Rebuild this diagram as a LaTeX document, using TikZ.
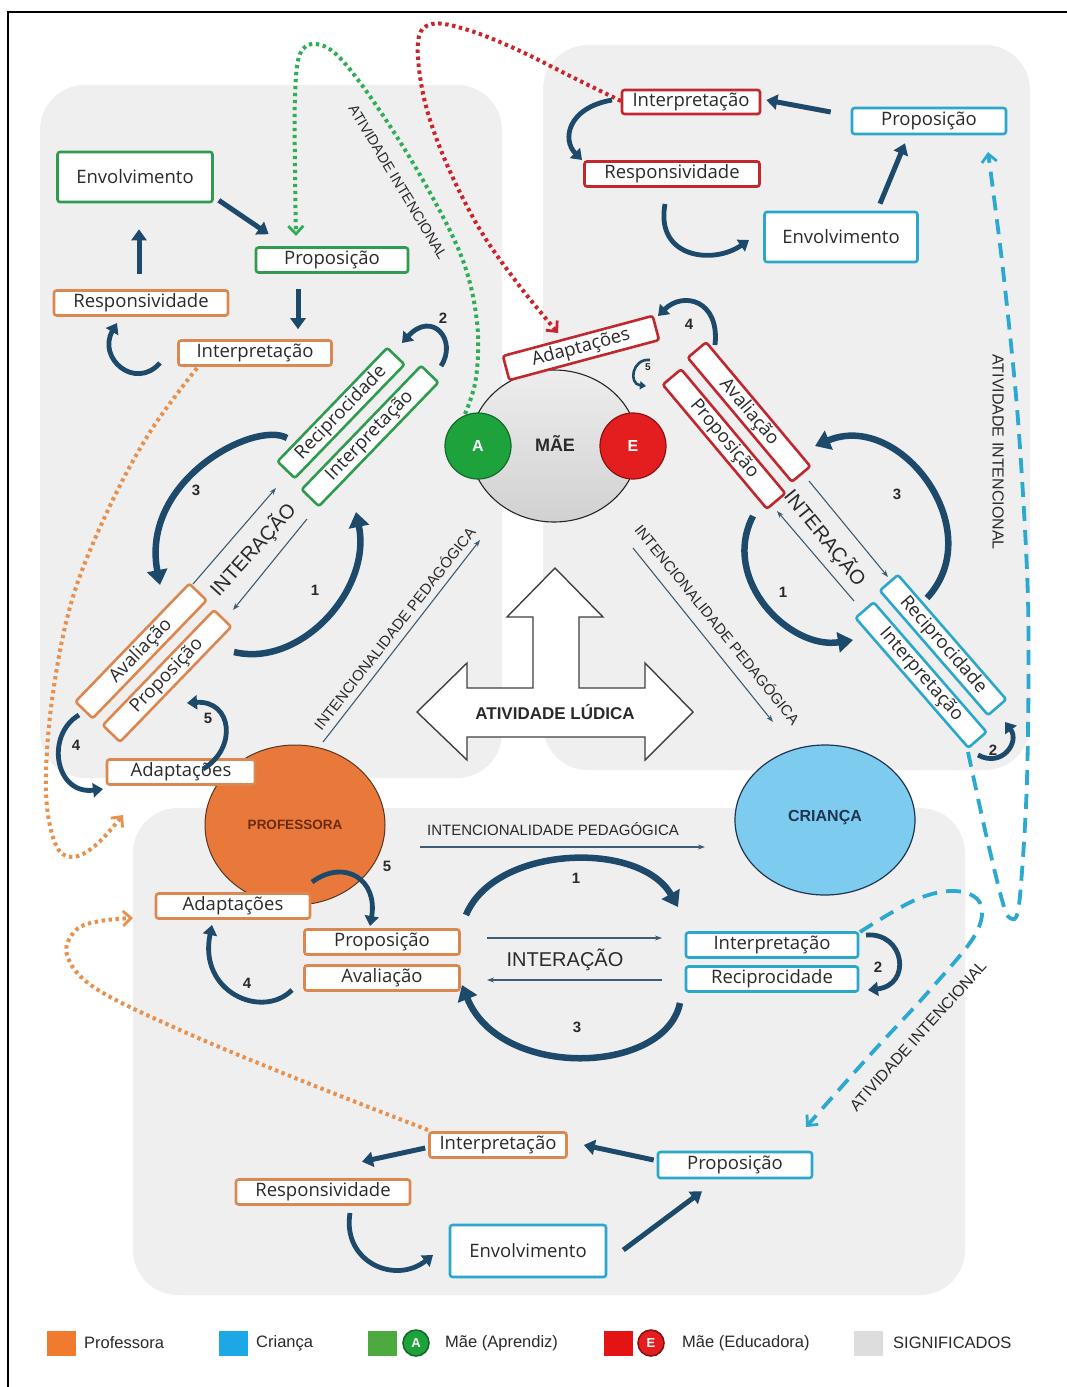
\documentclass[tikz,border=0pt]{standalone}
\usepackage{fontspec}
\setmainfont{Liberation Sans}
\newfontfamily\osans{Open Sans}
\newfontfamily\lsans{Liberation Sans}
\usetikzlibrary{arrows.meta,shapes.geometric}
\definecolor{panelc}{HTML}{EFEFEF}
\definecolor{orB}{HTML}{DC8750}
\definecolor{blB}{HTML}{2AA7CB}
\definecolor{grB}{HTML}{2E9B4F}
\definecolor{rdB}{HTML}{C0282D}
\definecolor{navy}{HTML}{1D4A6A}
\definecolor{thinc}{HTML}{3E5C72}
\definecolor{txtc}{HTML}{2A2A2A}
\definecolor{profc}{HTML}{E9793A}
\definecolor{profd}{HTML}{5A3422}
\definecolor{proft}{HTML}{6B2A12}
\definecolor{cric}{HTML}{7DCBEF}
\definecolor{crid}{HTML}{1F3550}
\definecolor{maec}{HTML}{D3D3D3}
\definecolor{aGreen}{HTML}{1EA33C}
\definecolor{aGreenD}{HTML}{136B28}
\definecolor{eRed}{HTML}{E41E1E}
\definecolor{eRedD}{HTML}{8A1212}
\definecolor{grDot}{HTML}{2FAE55}
\definecolor{rdDot}{HTML}{C8262C}
\definecolor{orDot}{HTML}{E8914F}
\definecolor{blDash}{HTML}{2BA9D0}
\definecolor{lgOr}{HTML}{F07A2E}
\definecolor{lgBl}{HTML}{1CA8E5}
\definecolor{lgGr}{HTML}{4CAA3E}
\definecolor{lgRd}{HTML}{E51414}
\definecolor{lgGy}{HTML}{DDDDDD}
\newcommand\bxf{\osans\fontsize{18.5}{21}\selectfont}
\newcommand\capf{\lsans\fontsize{15}{16}\selectfont}
\newcommand\capg{\lsans\fontsize{16}{17}\selectfont}
\newcommand\intf{\lsans\fontsize{20}{21}\selectfont}
\newcommand\numf{\lsans\bfseries\fontsize{15}{15}\selectfont}
\newcommand\lgf{\lsans\fontsize{16.5}{18}\selectfont}
\begin{document}
\begin{tikzpicture}[x=1pt,y=-1pt,
  bx/.style={draw, line width=2.6pt, fill=white, rounded corners=2.5pt, minimum height=24pt, inner sep=0pt, text=txtc, font=\bxf},
  obx/.style={bx, draw=orB},
  gbx/.style={bx, draw=grB},
  rbx/.style={bx, draw=rdB},
  bbx/.style={bx, draw=blB},
  darr/.style={draw=navy, line width=5pt, -{Triangle[length=11pt,width=15pt]}},
  carr/.style={draw=navy, line width=6.5pt, -{Triangle[length=15pt,width=20pt]}},
  marr/.style={draw=navy, line width=4.8pt, -{Triangle[length=10pt,width=14pt]}},
  sarr/.style={draw=navy, line width=2.6pt, -{Triangle[length=6pt,width=8pt]}},
  tarr/.style={draw=thinc, line width=1.1pt, -{Stealth[length=7pt,width=5pt]}},
  num/.style={font=\numf, text=txtc, inner sep=0pt},
  capl/.style={font=\capf, text=txtc, inner sep=0pt},
  capb/.style={font=\capg, text=txtc, inner sep=0pt},
  intl/.style={font=\intf, text=txtc, inner sep=0pt},
  dotline/.style={line width=4pt, dash pattern=on 3.4pt off 3.6pt},
  barb/.style={-{Straight Barb[length=8pt,width=15pt,line width=2.8pt]}},
  dashb/.style={line width=3.8pt, dash pattern=on 15pt off 9pt, draw=blDash},
  lgt/.style={font=\lgf, text=txtc, anchor=west, inner sep=0pt},
  lsq/.style={minimum width=29pt, minimum height=25pt, inner sep=0pt},
]
\useasboundingbox (0,0) rectangle (1067,1387);
\fill[white] (0,0) rectangle (1067,1387);
% frame
\draw[line width=1.5pt] (8,1400) -- (8,12) -- (1070,12);
% panels (SIGNIFICADOS)
\fill[panelc, rounded corners=45pt] (40,85) rectangle (502,778);
\fill[panelc, rounded corners=45pt] (543,45) rectangle (1030,770);
\fill[panelc, rounded corners=45pt] (133,808) rectangle (965,1295);

% dotted / dashed intentional activity lines
\draw[dotline, draw=grDot, barb] plot[smooth, tension=0.6] coordinates {(465,414) (476,378) (477,322) (462,258) (424,182) (378,108) (340,58) (316,44) (300,54) (295,95) (295,170) (296,236)};
\draw[dotline, draw=rdDot, barb] plot[smooth, tension=0.6] coordinates {(621,101) (574,78) (518,50) (468,30) (432,24) (418,42) (424,98) (445,160) (479,228) (518,284) (558,333)};
\draw[dotline, draw=orDot, barb] plot[smooth, tension=0.6] coordinates {(197,368) (150,432) (108,510) (72,600) (52,700) (46,790) (55,843) (72,857) (96,845) (123,815)};
\draw[dotline, draw=orDot, barb] plot[smooth, tension=0.6] coordinates {(428,1130) (300,1080) (180,1030) (95,988) (67,955) (76,930) (100,921) (133,918)};
\draw[dashb, barb] plot[smooth, tension=0.5] coordinates {(968,752) (985,830) (1002,900) (1010,918) (1019,905) (1027,780) (1028,600) (1018,420) (1003,270) (988,152)};
\draw[dashb, barb] plot[smooth, tension=0.6] coordinates {(860,932) (915,900) (955,891) (980,903) (975,935) (930,990) (870,1055) (806,1127)};

% circles
\node[ellipse, draw=black!85, line width=1.1pt, top color=gray!14, bottom color=gray!36, minimum width=168pt, minimum height=152pt, inner sep=0pt] (mae) at (554,446) {};
\node[font=\lsans\bfseries\fontsize{18}{18}\selectfont, text=txtc] (maeT) at (555,443) {MÃE};
\node[circle, fill=aGreen, draw=aGreenD, line width=1.2pt, minimum size=66pt, inner sep=0pt, text=white, font=\lsans\bfseries\fontsize{16}{16}\selectfont] (cA) at (478,446) {A};
\node[circle, fill=eRed, draw=eRedD, line width=1.2pt, minimum size=66pt, inner sep=0pt, text=white, font=\lsans\bfseries\fontsize{16}{16}\selectfont] (cE) at (633,446) {E};
\node[ellipse, fill=profc, draw=profd, line width=1pt, minimum width=180pt, minimum height=160pt, inner sep=0pt] (prof) at (295,825) {};
\node[font=\lsans\bfseries\fontsize{13.5}{14}\selectfont, text=proft] (profT) at (295,825) {PROFESSORA};
\node[ellipse, fill=cric, draw=crid, line width=1.2pt, minimum width=180pt, minimum height=150pt, inner sep=0pt] (cri) at (825,820) {};
\node[font=\lsans\bfseries\fontsize{16}{16}\selectfont, text=crid] (criT) at (825,818) {CRIANÇA};

% ATIVIDADE LUDICA arrow
\draw[line width=1.4pt, draw=black!75, fill=white, line join=miter] (555,568) -- (603,617) -- (579,617) -- (579,688) -- (645,688) -- (645,663) -- (693,712) -- (645,760) -- (645,737) -- (467,737) -- (467,760) -- (417,712) -- (467,663) -- (467,688) -- (533,688) -- (533,617) -- (507,617) -- cycle;
\node[font=\lsans\bfseries\fontsize{17}{17}\selectfont, text=txtc] (lud) at (555,712) {ATIVIDADE LÚDICA};

% intentionality arrows
\coordinate (ipL1) at (323,742); \coordinate (ipL2) at (480,540);
\coordinate (ipR1) at (633,548); \coordinate (ipR2) at (773,722);
\coordinate (ipB1) at (420,847); \coordinate (ipB2) at (705,847);
\draw[tarr] (ipL1) -- (ipL2);
\draw[tarr] (ipR1) -- (ipR2);
\draw[tarr] (ipB1) -- (ipB2);
\node[capl, rotate=52] (ipL) at (394,628) {INTENCIONALIDADE PEDAGÓGICA};
\node[capl, rotate=-51] (ipR) at (718,624) {INTENCIONALIDADE PEDAGÓGICA};
\node[capl] (ipB) at (553,829) {INTENCIONALIDADE PEDAGÓGICA};
\node[font=\lsans\fontsize{14.5}{15}\selectfont, text=txtc, inner sep=0pt, rotate=-59] (aiG) at (398,182) {ATIVIDADE INTENCIONAL};
\node[capb, rotate=-90] (aiR) at (998,452) {ATIVIDADE INTENCIONAL};
\node[capb, rotate=48] (aiB) at (918,1036) {ATIVIDADE INTENCIONAL};

% interaction thin arrows
\coordinate (iL1) at (193,584); \coordinate (iL2) at (276,488);
\coordinate (iL3) at (307,519); \coordinate (iL4) at (233,610);
\coordinate (iR1) at (809,481); \coordinate (iR2) at (888,577);
\coordinate (iR3) at (854,601); \coordinate (iR4) at (777,511);
\coordinate (iB1) at (487,938); \coordinate (iB2) at (662,938);
\coordinate (iB3) at (662,980); \coordinate (iB4) at (487,980);
\draw[tarr] (iL1) -- (iL2);
\draw[tarr] (iL3) -- (iL4);
\draw[tarr] (iR1) -- (iR2);
\draw[tarr] (iR3) -- (iR4);
\draw[tarr] (iB1) -- (iB2);
\draw[tarr] (iB3) -- (iB4);
\node[intl, rotate=48] (intL) at (253,550) {INTERAÇÃO};
\node[intl, rotate=-51] (intR) at (825,538) {INTERAÇÃO};
\node[intl] (intB) at (565,960) {INTERAÇÃO};

% ---- boxes: top-left
\node[gbx, minimum width=155pt, minimum height=50pt] (tlEnv) at (135,177) {Envolvimento};
\node[gbx, minimum width=152pt, minimum height=25pt] (tlProp) at (332,260) {Proposição};
\node[obx, minimum width=174pt, minimum height=25pt] (tlResp) at (141,303) {Responsividade};
\node[obx, minimum width=153pt, minimum height=25pt] (tlInt) at (255,353) {Interpretação};
% top-right
\node[rbx, minimum width=138pt] (trInt) at (691,102) {Interpretação};
\node[bbx, minimum width=154pt, minimum height=26pt] (trProp) at (929,121) {Proposição};
\node[rbx, minimum width=175pt, minimum height=25pt] (trResp) at (672,174) {Responsividade};
\node[bbx, minimum width=153pt, minimum height=50pt] (trEnv) at (841,237) {Envolvimento};
% left diagonal
\node[gbx, rotate=46, minimum width=158pt] (gRec) at (341,413) {Reciprocidade};
\node[gbx, rotate=46, minimum width=172pt] (gInt) at (370,436) {Interpretação};
\node[obx, rotate=46, minimum width=164pt] (oAva) at (141,651) {Avaliação};
\node[obx, rotate=46, minimum width=160pt] (oProp) at (167,676) {Proposição};
\node[obx, minimum width=148pt, minimum height=25pt] (oAda1) at (181,772) {Adaptações};
% right diagonal
\node[rbx, rotate=15, minimum width=155pt, minimum height=25pt] (rAda) at (581,348) {Adaptações};
\node[rbx, rotate=-50, minimum width=162pt] (rAva) at (749,412) {Avaliação};
\node[rbx, rotate=-50, minimum width=162pt] (rProp) at (724,439) {Proposição};
\node[bbx, rotate=-49, minimum width=165pt] (bRec) at (943,645) {Reciprocidade};
\node[bbx, rotate=-49, minimum width=172pt] (bInt) at (921,675) {Interpretação};
% bottom
\node[obx, minimum width=154pt, minimum height=25pt] (oAda2) at (233,906) {Adaptações};
\node[obx, minimum width=155pt, minimum height=25pt] (oProp2) at (382,942) {Proposição};
\node[obx, minimum width=155pt, minimum height=25pt] (oAva2) at (382,978) {Avaliação};
\node[bbx, minimum width=172pt, minimum height=25pt] (bInt2) at (772,945) {Interpretação};
\node[bbx, minimum width=172pt, minimum height=25pt] (bRec2) at (772,979) {Reciprocidade};
\node[obx, minimum width=137pt, minimum height=25pt] (oInt3) at (498,1145) {Interpretação};
\node[bbx, minimum width=154pt, minimum height=26pt] (bProp3) at (735,1165) {Proposição};
\node[obx, minimum width=174pt, minimum height=25pt] (oResp3) at (323,1192) {Responsividade};
\node[bbx, minimum width=156pt, minimum height=52pt] (bEnv3) at (528,1251) {Envolvimento};

% ---- straight dark arrows (loops)
\draw[darr] ([shift={(5pt,3pt)}]tlEnv.south east) -- ([shift={(14pt,12pt)}]tlProp.north west);
\draw[darr] ([shift={(-2pt,15pt)}]tlResp.north) -- ([shift={(4pt,-26pt)}]tlEnv.south);
\draw[darr] ([shift={(-34pt,-15pt)}]tlProp.south) -- ([shift={(43pt,10pt)}]tlInt.north);
\draw[darr] ([shift={(-20pt,9pt)}]trProp.west) -- ([shift={(5pt,2pt)}]trInt.east);
\draw[darr] ([shift={(39pt,7pt)}]trEnv.north) -- ([shift={(-24pt,-8pt)}]trProp.south);
\draw[darr] ([shift={(-3pt,5pt)}]bProp3.west) -- ([shift={(16pt,0pt)}]oInt3.east);
\draw[darr] ([shift={(-3pt,-3pt)}]oInt3.west) -- ([shift={(39pt,16.5pt)}]oResp3.north);
\draw[darr] ([shift={(16pt,1pt)}]bEnv3.east) -- ([shift={(-33pt,-12pt)}]bProp3.south);

% ---- curved dark arrows
% loops
\coordinate (k1s) at (160,363); \coordinate (k1e) at (117,323);
\draw[marr] (k1s) .. controls (135,391) and (97,358) .. (k1e);
\coordinate (k2s) at (612,100); \coordinate (k2e) at (582,160);
\draw[marr] (k2s) .. controls (567,108) and (562,140) .. (k2e);
\coordinate (k3s) at (665,204); \coordinate (k3e) at (749,240);
\draw[marr] (k3s) .. controls (655,258) and (713,265) .. (k3e);
\coordinate (k4s) at (350,1213); \coordinate (k4e) at (433,1255);
\draw[marr] (k4s) .. controls (342,1262) and (395,1285) .. (k4e);
% left cycle
\coordinate (L3s) at (287,438); \coordinate (L3e) at (160,585);
\draw[carr] (L3s) .. controls (255,420) and (140,480) .. (L3e);
\coordinate (L1s) at (234,652); \coordinate (L1e) at (356,512);
\draw[carr] (L1s) .. controls (300,668) and (372,590) .. (L1e);
\coordinate (L2s) at (441,366); \coordinate (L2e) at (402,343);
\draw[marr] (L2s) .. controls (458,340) and (432,310) .. (L2e);
\coordinate (L4s) at (79,715); \coordinate (L4e) at (103,789);
\draw[marr] (L4s) .. controls (45,735) and (55,795) .. (L4e);
\coordinate (L5s) at (203,769); \coordinate (L5e) at (187,703);
\draw[marr] (L5s) .. controls (238,748) and (232,700) .. (L5e);
% right cycle
\coordinate (R4s) at (715,345); \coordinate (R4e) at (658,316);
\draw[marr] (R4s) .. controls (720,300) and (683,291) .. (R4e);
\coordinate (R5s) at (650,360); \coordinate (R5e) at (646,386);
\draw[sarr] (R5s) .. controls (632,358) and (628,384) .. (R5e);
\coordinate (R3s) at (927,598); \coordinate (R3e) at (815,446);
\draw[carr] (R3s) .. controls (990,530) and (900,410) .. (R3e);
\coordinate (R1s) at (753,516); \coordinate (R1e) at (853,640);
\draw[carr] (R1s) .. controls (720,580) and (790,650) .. (R1e);
\coordinate (R2s) at (978,755); \coordinate (R2e) at (1005,722);
\draw[marr] (R2s) .. controls (1002,768) and (1020,742) .. (R2e);
% bottom cycle
\coordinate (B1s) at (466,915); \coordinate (B1e) at (678,907);
\draw[carr] (B1s) .. controls (495,845) and (640,840) .. (B1e);
\coordinate (B3s) at (680,1003); \coordinate (B3e) at (462,985);
\draw[carr] (B3s) .. controls (665,1075) and (500,1080) .. (B3e);
\coordinate (B2s) at (866,935); \coordinate (B2e) at (868,990);
\draw[marr] (B2s) .. controls (905,932) and (912,985) .. (B2e);
\coordinate (B5s) at (312,882); \coordinate (B5e) at (370,926);
\draw[marr] (B5s) .. controls (345,858) and (378,880) .. (B5e);
\coordinate (B4s) at (292,990); \coordinate (B4e) at (212,925);
\draw[marr] (B4s) .. controls (262,1020) and (198,992) .. (B4e);

% numbers
\node[num] (nL3) at (196,490) {3};
\node[num] (nL1) at (315,590) {1};
\node[num] (nL2) at (443,318) {2};
\node[num] (nL4) at (76,745) {4};
\node[num] (nL5) at (208,718) {5};
\node[num] (nR4) at (689,324) {4};
\node[num, font=\lsans\bfseries\fontsize{10}{10}\selectfont] (nR5) at (648,367) {5};
\node[num] (nR3) at (897,494) {3};
\node[num] (nR1) at (783,592) {1};
\node[num] (nR2) at (993,750) {2};
\node[num] (nB1) at (576,878) {1};
\node[num] (nB3) at (577,1027) {3};
\node[num] (nB2) at (878,967) {2};
\node[num] (nB5) at (387,866) {5};
\node[num] (nB4) at (247,983) {4};

% legend
\node[lsq, fill=lgOr] (lgP) at (61,1343) {};
\node[lgt] (lgPt) at (84,1343) {Professora};
\node[lsq, fill=lgBl] (lgC) at (233,1343) {};
\node[lgt] (lgCt) at (256,1343) {Criança};
\node[lsq, fill=lgGr] (lgA) at (382,1343) {};
\node[circle, fill=aGreen, draw=aGreenD, line width=1.6pt, minimum size=26pt, inner sep=0pt, text=white, font=\lsans\bfseries\fontsize{13}{13}\selectfont] (lgAc) at (416,1343) {A};
\node[lgt] (lgAt) at (445,1343) {Mãe (Aprendiz)};
\node[lsq, fill=lgRd] (lgE) at (618,1343) {};
\node[circle, fill=eRed, draw=eRedD, line width=1.6pt, minimum size=26pt, inner sep=0pt, text=white, font=\lsans\bfseries\fontsize{13}{13}\selectfont] (lgEc) at (651,1343) {E};
\node[lgt] (lgEt) at (682,1343) {Mãe (Educadora)};
\node[lsq, fill=lgGy] (lgS) at (868,1343) {};
\node[lgt] (lgSt) at (893,1343) {SIGNIFICADOS};
\end{tikzpicture}
\end{document}
